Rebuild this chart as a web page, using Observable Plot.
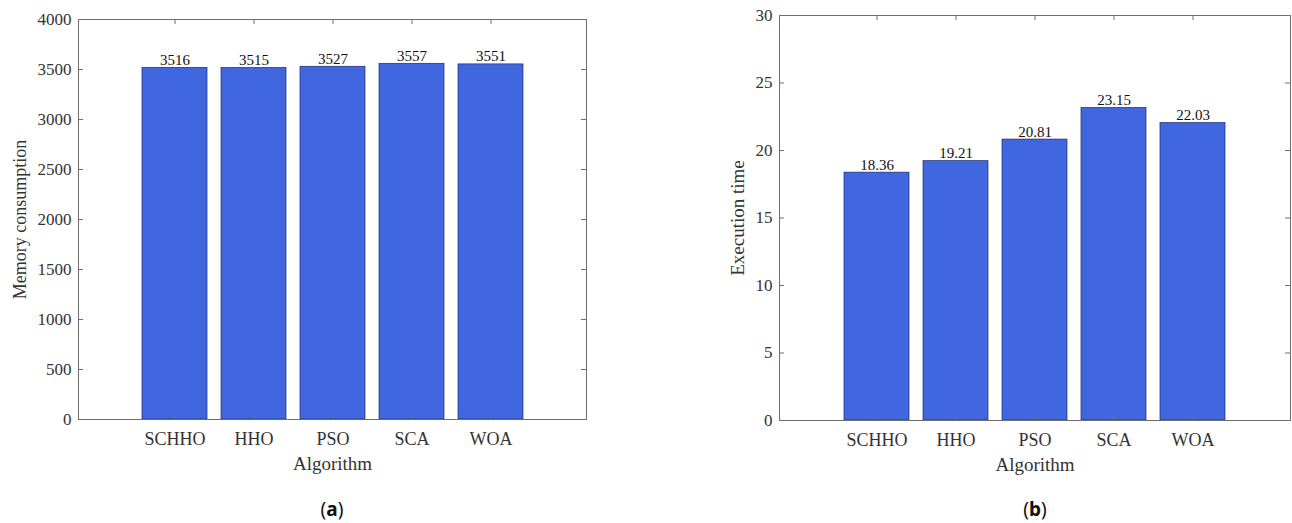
<!DOCTYPE html>
<html>
<head>
<meta charset="utf-8">
<script src="https://cdn.jsdelivr.net/npm/d3@7"></script>
<script src="https://cdn.jsdelivr.net/npm/@observablehq/plot@0.6"></script>
<style>
  html, body { margin: 0; padding: 0; background: #fff; }
  #wrap { position: relative; width: 1292px; height: 523px; overflow: hidden; }
  .panel { position: absolute; top: 0; }
  .caption { position: absolute; top: 496px; width: 120px; text-align: center;
             font-family: "Noto Sans", "DejaVu Sans", sans-serif; font-size: 19px; color: #111; }
</style>
</head>
<body>
<div id="wrap">
  <div class="panel" id="panelA" style="left:0px"></div>
  <div class="panel" id="panelB" style="left:646px"></div>
  <div class="caption" style="left:272px">(<b>a</b>)</div>
  <div class="caption" style="left:975px">(<b>b</b>)</div>
</div>
<script>
// Algorithms compared
const algorithms = ["SCHHO", "HHO", "PSO", "SCA", "WOA"];
// Memory consumption per algorithm
const memory = [3516, 3515, 3527, 3557, 3551];
// Execution time per algorithm
const execTime = [18.36, 19.21, 20.81, 23.15, 22.03];
// Y tick values
const memoryTicks = [0, 500, 1000, 1500, 2000, 2500, 3000, 3500, 4000];
const timeTicks = [0, 5, 10, 15, 20, 25, 30];

const serif = "'Liberation Serif', 'Times New Roman', serif";
const barBlue = "#4066e0";
const axisGray = "#6e6e6e";
const textGray = "#333";

function barPanel({values, ticks, yMax, yLabel, yLabelSize, format, width, height,
                   marginLeft, marginRight, marginTop, marginBottom,
                   paddingOuter, labelOffset}) {
  const rows = algorithms.map((a, i) => ({alg: a, value: values[i]}));
  const innerW = width - marginLeft - marginRight;
  const innerH = height - marginTop - marginBottom;
  const tick = 5;
  return Plot.plot({
    width, height, marginLeft, marginRight, marginTop, marginBottom,
    style: {fontFamily: serif, fontSize: "16px", background: "#fff"},
    x: {domain: algorithms, paddingInner: 0.18, paddingOuter, axis: null},
    y: {domain: [0, yMax], axis: null},
    marks: [
      Plot.barY(rows, {x: "alg", y: "value", fill: barBlue, stroke: "#1b2a66", strokeWidth: 0.7}),
      Plot.text(rows, {x: "alg", y: "value", text: d => format(d.value), dy: -3,
                       lineAnchor: "bottom", fontSize: 15, fill: "#111"}),
      Plot.frame({stroke: axisGray, strokeWidth: 1}),
      // inward ticks on all four sides
      Plot.tickY(ticks, {y: d => d, insetRight: innerW - tick, stroke: axisGray}),
      Plot.tickY(ticks, {y: d => d, insetLeft: innerW - tick, stroke: axisGray}),
      Plot.tickX(algorithms, {x: d => d, insetTop: innerH - tick, stroke: axisGray}),
      Plot.tickX(algorithms, {x: d => d, insetBottom: innerH - tick, stroke: axisGray}),
      Plot.axisY(ticks, {tickSize: 0, tickPadding: 7, fontSize: 17, color: textGray,
                         tickFormat: d => String(d), label: null}),
      Plot.axisX({tickSize: 0, tickPadding: 13, fontSize: 18, color: textGray, label: null}),
      Plot.text([yLabel], {frameAnchor: "left", rotate: -90, dx: -labelOffset,
                           textAnchor: "middle", fontSize: yLabelSize, fill: textGray}),
      Plot.text(["Algorithm"], {frameAnchor: "bottom", dy: 44, lineAnchor: "middle",
                                fontSize: 19, fill: textGray})
    ]
  });
}

document.getElementById("panelA").append(barPanel({
  values: memory, ticks: memoryTicks, yMax: 4000, yLabel: "Memory consumption", yLabelSize: 18,
  format: d3.format("d"), width: 646, height: 480,
  marginLeft: 78, marginRight: 60, marginTop: 19, marginBottom: 61,
  paddingOuter: 0.805, labelOffset: 58
}));

document.getElementById("panelB").append(barPanel({
  values: execTime, ticks: timeTicks, yMax: 30, yLabel: "Execution time", yLabelSize: 19,
  format: d3.format(".2f"), width: 646, height: 480,
  marginLeft: 133, marginRight: 2, marginTop: 15, marginBottom: 60,
  paddingOuter: 0.784, labelOffset: 42
}));
</script>
</body>
</html>
